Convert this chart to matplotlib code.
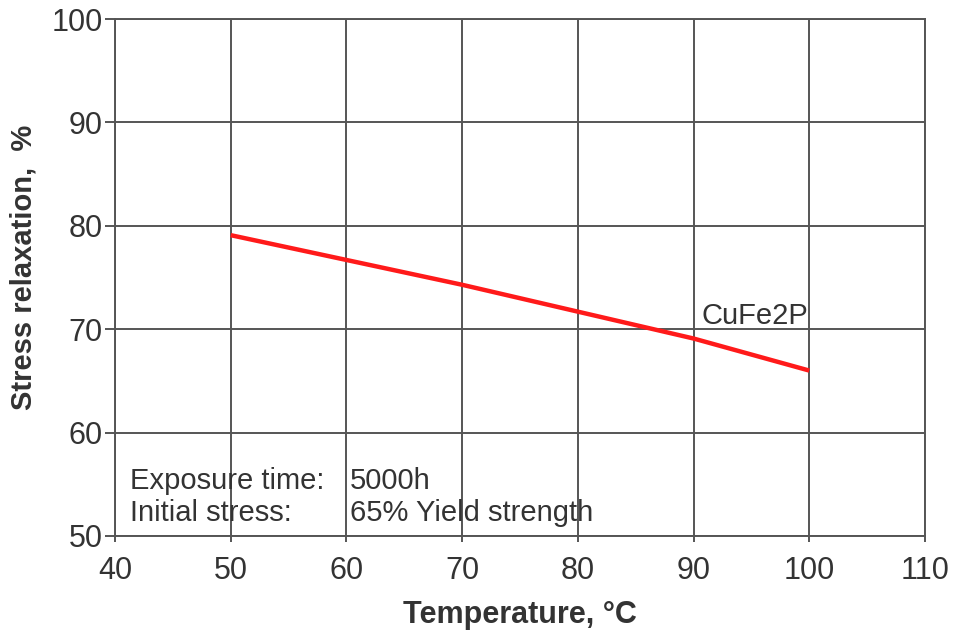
import matplotlib
matplotlib.use('Agg')
import matplotlib.pyplot as plt

plt.rcParams['font.family'] = ['Liberation Sans', 'DejaVu Sans']

# data
temperature = [50, 60, 70, 80, 90, 100]
relaxation = [79.1, 76.7, 74.3, 71.7, 69.1, 66.0]
series_name = 'CuFe2P'
x_ticks = [40, 50, 60, 70, 80, 90, 100, 110]
y_ticks = [50, 60, 70, 80, 90, 100]
note_keys = ['Exposure time:', 'Initial stress:']
note_vals = ['5000h', '65% Yield strength']

grid_col = '#555555'
text_col = '#333333'

fig = plt.figure(figsize=(9.55, 6.37), dpi=100)
ax = fig.add_axes([0.1204, 0.1586, 0.8482, 0.8114])

ax.plot(temperature, relaxation, color='#ff1a1a', lw=3.2, solid_capstyle='butt', zorder=3)
ax.text(99.9, 71.3, series_name, fontsize=21, color=text_col, ha='right', va='center')

ax.set_xlim(40, 110)
ax.set_ylim(50, 100)
ax.set_xticks(x_ticks)
ax.set_yticks(y_ticks)
ax.grid(True, color=grid_col, lw=1.4)
for s in ax.spines.values():
    s.set_color(grid_col)
    s.set_linewidth(1.4)
ax.tick_params(axis='both', direction='out', width=1.4, color=grid_col,
               labelsize=22, labelcolor=text_col)
ax.tick_params(axis='y', length=7, pad=2)
ax.tick_params(axis='x', length=4.5, pad=10)

for i, (k, v) in enumerate(zip(note_keys, note_vals)):
    y = 55.3 - i * 3.1
    ax.text(41.3, y, k, fontsize=21, color=text_col, va='center')
    ax.text(60.3, y, v, fontsize=21, color=text_col, va='center')

ax.set_xlabel('Temperature, °C', fontsize=22, fontweight='bold', color=text_col, labelpad=10)
ax.set_ylabel('Stress relaxation,  %', fontsize=21, fontweight='bold', color=text_col)
ax.yaxis.set_label_coords(-0.096, 0.52)

fig.savefig('out.png', dpi=100)
